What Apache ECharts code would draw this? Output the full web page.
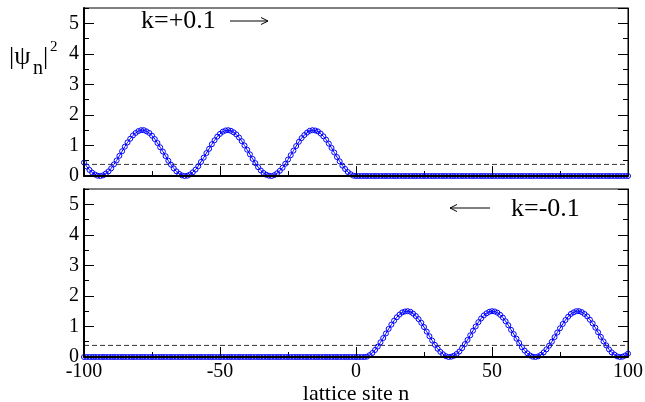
<!DOCTYPE html>
<html><head><meta charset="utf-8">
<script src="https://cdn.jsdelivr.net/npm/echarts@6/dist/echarts.min.js"></script>
<style>html,body{margin:0;padding:0;background:#fff}#c{width:645px;height:402px}</style>
</head><body><div id="c"></div>
<script>
const xMin = -100, xMax = 100;
const xMajor = 50, xMinor = 25;
const yMin = 0, yMax = 5.5, yMajor = 1, yMinor = 0.5;
const meanLevel = 0.38;
const topLabel = 'k=+0.1';
const bottomLabel = 'k=-0.1';
const xName = 'lattice site n';

// |psi_n|^2 for k=+0.1, sites n = -100 .. 100
const topValues = [
0.44,0.31,0.20,0.11,0.05,0.01,0.00,0.02,0.08,0.15,
0.25,0.38,0.51,0.66,0.81,0.96,1.10,1.22,1.33,1.41,
1.47,1.50,1.50,1.46,1.41,1.32,1.21,1.08,0.94,0.80,
0.65,0.50,0.37,0.25,0.15,0.07,0.02,0.00,0.01,0.05,
0.12,0.21,0.32,0.46,0.60,0.75,0.89,1.04,1.17,1.29,
1.38,1.45,1.49,1.50,1.48,1.43,1.36,1.26,1.14,1.00,
0.86,0.71,0.56,0.42,0.29,0.18,0.10,0.04,0.01,0.00,
0.03,0.09,0.17,0.27,0.40,0.54,0.68,0.83,0.98,1.12,
1.24,1.34,1.42,1.48,1.50,1.49,1.46,1.39,1.30,1.19,
1.06,0.92,0.77,0.62,0.48,0.34,0.23,0.13,0.06,0.01,
0,
0,0,0,0,0,0,0,0,0,0,
0,0,0,0,0,0,0,0,0,0,
0,0,0,0,0,0,0,0,0,0,
0,0,0,0,0,0,0,0,0,0,
0,0,0,0,0,0,0,0,0,0,
0,0,0,0,0,0,0,0,0,0,
0,0,0,0,0,0,0,0,0,0,
0,0,0,0,0,0,0,0,0,0,
0,0,0,0,0,0,0,0,0,0,
0,0,0,0,0,0,0,0,0,0
];

// |psi_n|^2 for k=-0.1, sites n = -100 .. 100
const bottomValues = [
0,0,0,0,0,0,0,0,0,0,
0,0,0,0,0,0,0,0,0,0,
0,0,0,0,0,0,0,0,0,0,
0,0,0,0,0,0,0,0,0,0,
0,0,0,0,0,0,0,0,0,0,
0,0,0,0,0,0,0,0,0,0,
0,0,0,0,0,0,0,0,0,0,
0,0,0,0,0,0,0,0,0,0,
0,0,0,0,0,0,0,0,0,0,
0,0,0,0,0,0,0,0,0,0,
0,0,0,
0,0.01,0.06,0.13,0.23,0.34,0.48,0.62,0.77,0.92,
1.06,1.19,1.30,1.39,1.46,1.49,1.50,1.48,1.42,1.34,
1.24,1.12,0.98,0.83,0.68,0.54,0.40,0.27,0.17,0.09,
0.03,0.00,0.01,0.04,0.10,0.18,0.29,0.42,0.56,0.71,
0.86,1.00,1.14,1.26,1.36,1.43,1.48,1.50,1.49,1.45,
1.38,1.29,1.17,1.04,0.89,0.75,0.60,0.46,0.32,0.21,
0.12,0.05,0.01,0.00,0.02,0.07,0.15,0.25,0.37,0.50,
0.65,0.80,0.94,1.08,1.21,1.32,1.41,1.46,1.50,1.50,
1.47,1.41,1.33,1.22,1.10,0.96,0.81,0.66,0.51,0.38,
0.25,0.15,0.08,0.02,0.00,0.01,0.05,0.11
];

const sites = [];
for (let n = xMin; n <= xMax; n++) sites.push(n);

const FONT = 'Liberation Serif';
const BLUE = '#0000ff';

const grids = [
  {left: 84, right: 17, top: 8, height: 168, show: true, borderColor: '#000', borderWidth: 1, outerBoundsMode: 'none', containLabel: false},
  {left: 84, right: 17, top: 189, height: 168, show: true, borderColor: '#000', borderWidth: 1, outerBoundsMode: 'none', containLabel: false}
];

const xAxes = [], yAxes = [];
[0, 1].forEach(g => {
  xAxes.push({
    gridIndex: g, type: 'value', min: xMin, max: xMax, interval: xMajor, position: 'bottom', z: 5,
    axisLine: {onZero: false, lineStyle: {color: '#000', width: 2}},
    axisTick: {inside: true, length: 10, lineStyle: {color: '#000', width: 1}},
    axisLabel: {show: g === 1, fontFamily: FONT, fontSize: 20, color: '#000', margin: 5},
    splitLine: {show: false},
    name: g === 1 ? xName : '', nameLocation: 'middle', nameGap: 24,
    nameTextStyle: {fontFamily: FONT, fontSize: 22, color: '#000'}
  });
  xAxes.push({
    gridIndex: g, type: 'value', min: xMin, max: xMax, interval: xMinor, position: 'bottom',
    axisLine: {show: false, onZero: false},
    axisTick: {inside: true, length: 5, lineStyle: {color: '#000', width: 1}},
    axisLabel: {show: false}, splitLine: {show: false}
  });
  ['left', 'right'].forEach(pos => {
    yAxes.push({
      gridIndex: g, type: 'value', min: yMin, max: yMax, interval: yMajor, position: pos, z: 5,
      axisLine: {show: true, onZero: false, lineStyle: {color: '#000', width: pos === 'left' ? 2 : 1}},
      axisTick: {inside: true, length: 10, lineStyle: {color: '#000', width: 1}},
      axisLabel: {show: pos === 'left', showMaxLabel: false, fontFamily: FONT, fontSize: 20, color: '#000', margin: 5},
      splitLine: {show: false}
    });
    yAxes.push({
      gridIndex: g, type: 'value', min: yMin, max: yMax, interval: yMinor, position: pos,
      axisLine: {show: false, onZero: false},
      axisTick: {inside: true, length: 5, lineStyle: {color: '#000', width: 1}},
      axisLabel: {show: false}, splitLine: {show: false}
    });
  });
});

function waveSeries(values, g) {
  return {
    type: 'line', xAxisIndex: g * 2, yAxisIndex: g * 4, clip: false, z: 3,
    data: sites.map((n, i) => [n, values[i]]),
    symbol: 'circle', symbolSize: 5, showAllSymbol: true,
    lineStyle: {color: BLUE, width: 1},
    itemStyle: {color: 'rgba(255,255,255,0)', borderColor: BLUE, borderWidth: 1}
  };
}
function meanSeries(g) {
  return {
    type: 'line', xAxisIndex: g * 2, yAxisIndex: g * 4, z: 2,
    data: [[xMin, meanLevel], [xMax, meanLevel]], symbol: 'none',
    lineStyle: {color: '#333', width: 1, type: [5, 3]}
  };
}

const chart = echarts.init(document.getElementById('c'), null, {renderer: 'canvas'});
chart.setOption({
  animation: false,
  backgroundColor: '#fff',
  grid: grids,
  xAxis: xAxes,
  yAxis: yAxes,
  series: [meanSeries(0), waveSeries(topValues, 0), meanSeries(1), waveSeries(bottomValues, 1)],
  graphic: [
    {type: 'text', left: 9, top: 44, style: {text: '|ψ', font: '26px "Liberation Serif"', fill: '#000'}},
    {type: 'text', left: 33, top: 59, style: {text: 'n', font: '20px "Liberation Serif"', fill: '#000'}},
    {type: 'text', left: 43, top: 44, style: {text: '|', font: '26px "Liberation Serif"', fill: '#000'}},
    {type: 'text', left: 50, top: 40, style: {text: '2', font: '15px "Liberation Serif"', fill: '#000'}},
    {type: 'text', left: 141, top: 8, style: {text: topLabel, font: '26px "Liberation Serif"', fill: '#000'}},
    {type: 'polyline', shape: {points: [[230, 21], [268, 21]]}, style: {stroke: '#000', lineWidth: 1}},
    {type: 'polyline', shape: {points: [[261, 17.5], [268, 21], [261, 24.5]]}, style: {stroke: '#000', lineWidth: 1, fill: null}},
    {type: 'text', left: 511, top: 196, style: {text: bottomLabel, font: '26px "Liberation Serif"', fill: '#000'}},
    {type: 'polyline', shape: {points: [[450, 208], [490, 208]]}, style: {stroke: '#000', lineWidth: 1}},
    {type: 'polyline', shape: {points: [[457, 204.5], [450, 208], [457, 211.5]]}, style: {stroke: '#000', lineWidth: 1, fill: null}}
  ]
});
</script>
</body></html>
